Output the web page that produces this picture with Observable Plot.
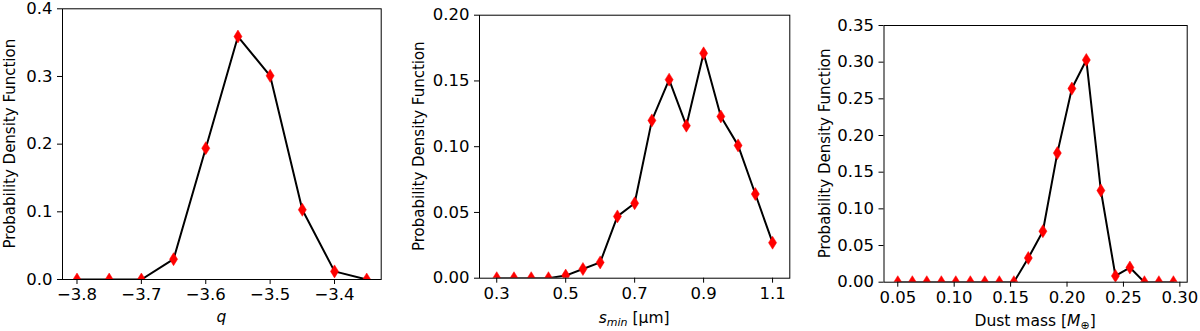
<!DOCTYPE html>
<html>
<head>
<meta charset="utf-8">
<script src="https://cdn.jsdelivr.net/npm/d3@7"></script>
<script src="https://cdn.jsdelivr.net/npm/@observablehq/plot@0.6"></script>
<style>
  html, body { margin: 0; padding: 0; background: #fff; }
  #wrap { position: relative; width: 1200px; height: 331px; overflow: hidden; }
  #wrap svg { position: absolute; top: 0; }
</style>
</head>
<body>
<div id="wrap"></div>
<script>
// ---- Data ----
const qValues = [-3.8, -3.75, -3.7, -3.65, -3.6, -3.55, -3.5, -3.45, -3.4, -3.35];
const qPdf    = [0, 0, 0, 0.030, 0.194, 0.359, 0.301, 0.103, 0.012, 0];

const sminValues = [0.30, 0.35, 0.40, 0.45, 0.50, 0.55, 0.60, 0.65, 0.70, 0.75, 0.80, 0.85, 0.90, 0.95, 1.00, 1.05, 1.10];
const sminPdf    = [0, 0, 0, 0, 0.002, 0.007, 0.012, 0.047, 0.057, 0.120, 0.151, 0.116, 0.171, 0.123, 0.101, 0.064, 0.027];

const massValues = [0.0500, 0.0629, 0.0757, 0.0886, 0.1014, 0.1143, 0.1271, 0.1400, 0.1529, 0.1657,
                    0.1786, 0.1914, 0.2043, 0.2171, 0.2300, 0.2429, 0.2557, 0.2686, 0.2814, 0.2943];
const massPdf    = [0, 0, 0, 0, 0, 0, 0, 0, 0, 0.033,
                    0.0695, 0.176, 0.264, 0.303, 0.125, 0.0086, 0.020, 0, 0, 0];

const qTicks = [-3.8, -3.7, -3.6, -3.5, -3.4];
const qYTicks = [0, 0.1, 0.2, 0.3, 0.4];
const sminTicks = [0.3, 0.5, 0.7, 0.9, 1.1];
const sminYTicks = [0, 0.05, 0.10, 0.15, 0.20];
const massTicks = [0.05, 0.10, 0.15, 0.20, 0.25, 0.30];
const massYTicks = [0, 0.05, 0.10, 0.15, 0.20, 0.25, 0.30, 0.35];

const yLabelText = "Probability Density Function";

// thin diamond marker (matplotlib "d")
const thinDiamond = {
  draw(ctx, size) {
    const r = Math.sqrt(size / Math.PI);
    const w = r * 0.62;
    ctx.moveTo(0, -r); ctx.lineTo(w, 0); ctx.lineTo(0, r); ctx.lineTo(-w, 0); ctx.closePath();
  }
};

function panel(cfg) {
  const data = cfg.xs.map((x, i) => ({x, y: cfg.ys[i]}));
  const svg = Plot.plot({
    width: 400,
    height: 331,
    marginLeft: cfg.m[0], marginRight: cfg.m[1], marginTop: cfg.m[2], marginBottom: cfg.m[3],
    style: {fontFamily: "DejaVu Sans", fontSize: "16px", color: "black", background: "transparent", overflow: "visible"},
    x: {domain: cfg.xDomain},
    y: {domain: cfg.yDomain},
    marks: [
      Plot.axisX({ticks: cfg.xTicks, tickFormat: d3.format(cfg.xFmt), tickSize: 5, tickPadding: 4, label: null}),
      Plot.axisY({ticks: cfg.yTicks, tickFormat: d3.format(cfg.yFmt), tickSize: 5, tickPadding: 5, label: null}),
      Plot.line(data, {x: "x", y: "y", stroke: "black", strokeWidth: 2, clip: true}),
      Plot.dot(data, {x: "x", y: "y", symbol: thinDiamond, r: 6.5, fill: "red", stroke: "red", strokeWidth: 0.5, clip: true}),
      Plot.frame({stroke: "black", strokeWidth: 1})
    ]
  });
  svg.style.left = cfg.left + "px";
  const s = d3.select(svg);
  s.selectAll("text").style("font-size", "16.5px").style("font-family", "DejaVu Sans");
  const plotTop = cfg.m[2], plotBottom = 331 - cfg.m[3];
  s.append("text")
    .attr("transform", `translate(${cfg.yLabelX},${(plotTop + plotBottom) / 2}) rotate(-90)`)
    .attr("text-anchor", "middle")
    .attr("dominant-baseline", "central")
    .style("font-family", "DejaVu Sans")
    .style("font-size", "15px")
    .attr("fill", "black")
    .text(yLabelText);
  const xl = s.append("text")
    .attr("x", (cfg.m[0] + 400 - cfg.m[1]) / 2)
    .attr("y", cfg.xLabelY)
    .attr("text-anchor", "middle")
    .style("font-family", "DejaVu Sans")
    .style("font-size", "15.5px")
    .attr("fill", "black");
  cfg.xLabel(xl);
  document.getElementById("wrap").appendChild(svg);
}

panel({
  xs: qValues, ys: qPdf, left: 0,
  m: [62, 19.3, 8.3, 52],
  xDomain: [-3.8225, -3.3275], yDomain: [0, 0.4],
  xTicks: qTicks, yTicks: qYTicks, xFmt: ".1f", yFmt: ".1f",
  yLabelX: 10, xLabelY: 322,
  xLabel: t => t.append("tspan").style("font-style", "italic").text("q")
});

panel({
  xs: sminValues, ys: sminPdf, left: 400,
  m: [79, 10.7, 14.7, 53.3],
  xDomain: [0.25, 1.15], yDomain: [0, 0.2],
  xTicks: sminTicks, yTicks: sminYTicks, xFmt: ".1f", yFmt: ".2f",
  yLabelX: 18.5, xLabelY: 323,
  xLabel: t => {
    t.append("tspan").style("font-style", "italic").text("s");
    t.append("tspan").style("font-style", "italic").style("font-size", "11px").attr("dy", 3).text("min");
    t.append("tspan").attr("dy", -3).text(" [μm]");
  }
});

panel({
  xs: massValues, ys: massPdf, left: 800,
  m: [83.5, 13.3, 25, 49.3],
  xDomain: [0.0378, 0.3065], yDomain: [0, 0.35],
  xTicks: massTicks, yTicks: massYTicks, xFmt: ".2f", yFmt: ".2f",
  yLabelX: 25, xLabelY: 326,
  xLabel: t => {
    t.append("tspan").text("Dust mass [");
    t.append("tspan").style("font-style", "italic").text("M");
    t.append("tspan").style("font-size", "11px").attr("dy", 3).text("⊕");
    t.append("tspan").attr("dy", -3).text("]");
  }
});
</script>
</body>
</html>
